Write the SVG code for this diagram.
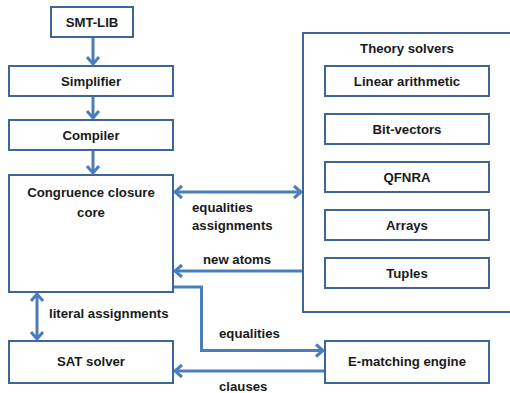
<svg xmlns="http://www.w3.org/2000/svg" width="510" height="393" viewBox="0 0 510 393">
<style>
.box{fill:#fff;stroke:#3c6598;stroke-width:2}
.t{font-family:"Liberation Sans",Arial,sans-serif;font-weight:bold;font-size:13.2px;fill:#1a1a1a}
.m{text-anchor:middle}
.c{fill:none;stroke:#4a7ebb;stroke-width:3}
</style>
<defs>
<marker id="ah" markerUnits="userSpaceOnUse" markerWidth="14" markerHeight="16" viewBox="-1 -1 12 16" refX="8" refY="7" orient="auto-start-reverse">
<path d="M1,1 L8,7 L1,13" fill="none" stroke="#4a7ebb" stroke-width="3"/>
</marker>
</defs>
<rect width="510" height="393" fill="#fff"/>
<g id="connectors">
<line class="c" x1="93" y1="37" x2="93" y2="64" marker-end="url(#ah)"/>
<line class="c" x1="93" y1="96" x2="93" y2="118" marker-end="url(#ah)"/>
<line class="c" x1="93" y1="150" x2="93" y2="173" marker-end="url(#ah)"/>
<line class="c" x1="175" y1="192" x2="301" y2="192" marker-start="url(#ah)" marker-end="url(#ah)"/>
<line class="c" x1="303" y1="271" x2="175" y2="271" marker-end="url(#ah)"/>
<line class="c" x1="37" y1="294" x2="37" y2="339" marker-start="url(#ah)" marker-end="url(#ah)"/>
<polyline class="c" points="173,287 201.5,287 201.5,350.5 323,350.5" marker-end="url(#ah)"/>
<line class="c" x1="325" y1="371" x2="175" y2="371" marker-end="url(#ah)"/>
</g>
<g id="smtlib"><rect class="box" x="51" y="7" width="82" height="30"/><text class="t m" x="92" y="27">SMT-LIB</text></g>
<g id="simplifier"><rect class="box" x="9" y="66" width="164" height="30"/><text class="t m" x="91" y="86">Simplifier</text></g>
<g id="compiler"><rect class="box" x="9" y="120" width="164" height="30"/><text class="t m" x="91" y="140">Compiler</text></g>
<g id="congruence"><rect class="box" x="9" y="175" width="164" height="117"/><text class="t m" x="91" y="197">Congruence closure</text><text class="t m" x="91" y="217">core</text></g>
<g id="theory"><rect class="box" x="303" y="33" width="220" height="279"/><text class="t m" x="407" y="53">Theory solvers</text></g>
<g id="linear"><rect class="box" x="325" y="66" width="164" height="30"/><text class="t m" x="407" y="86">Linear arithmetic</text></g>
<g id="bitvectors"><rect class="box" x="325" y="114" width="164" height="30"/><text class="t m" x="407" y="134">Bit-vectors</text></g>
<g id="qfnra"><rect class="box" x="325" y="162" width="164" height="30"/><text class="t m" x="407" y="182">QFNRA</text></g>
<g id="arrays"><rect class="box" x="325" y="210" width="164" height="30"/><text class="t m" x="407" y="230">Arrays</text></g>
<g id="tuples"><rect class="box" x="325" y="258" width="164" height="30"/><text class="t m" x="407" y="278">Tuples</text></g>
<g id="sat"><rect class="box" x="9" y="341" width="164" height="42"/><text class="t m" x="91" y="366">SAT solver</text></g>
<g id="ematching"><rect class="box" x="325" y="341" width="164" height="42"/><text class="t m" x="407" y="366">E-matching engine</text></g>
<g id="labels">
<text class="t" x="192" y="212">equalities</text>
<text class="t" x="192" y="230">assignments</text>
<text class="t" x="203" y="264">new atoms</text>
<text class="t" x="49" y="318">literal assignments</text>
<text class="t" x="219" y="338">equalities</text>
<text class="t" x="219" y="391">clauses</text>
</g>
</svg>
